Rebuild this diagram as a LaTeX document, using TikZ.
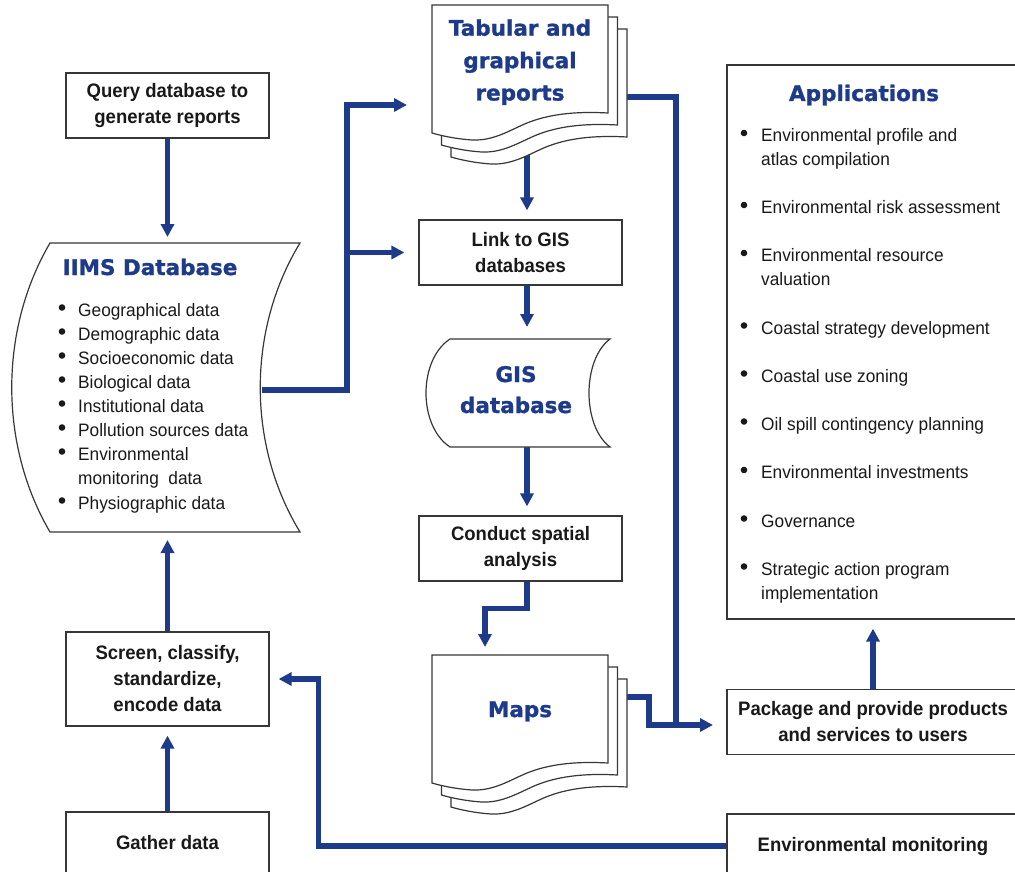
\documentclass[tikz,border=0pt]{standalone}
\usepackage{fontspec}
\usetikzlibrary{arrows.meta}
\newfontfamily\labfont{Liberation Sans}[FakeStretch=0.95]
\newfontfamily\bodyfont{Liberation Sans}[FakeStretch=0.96]
\newfontfamily\headfont{DejaVu Sans}[FakeBold=1.2]
\definecolor{flowblue}{RGB}{30,58,138}
\definecolor{edge}{RGB}{55,55,55}
\definecolor{ink}{RGB}{25,25,25}
\pgfdeclarelayer{bg}
\pgfsetlayers{bg,main}

\begin{document}
\begin{tikzpicture}[x=1pt,y=-1pt,
  box/.style={draw=edge,line width=1.2pt,fill=white,inner sep=0pt,align=center,text=ink,
    font=\labfont\bfseries\fontsize{19.5}{26}\selectfont},
  frame/.style={draw=edge,line width=1.2pt,fill=white,inner sep=0pt},
  flow/.style={draw=flowblue,line width=5.5pt,-{Triangle[length=13pt,width=13pt]}},
  feed/.style={draw=flowblue,line width=5.5pt},
  head/.style={anchor=base,inner sep=0pt,text=flowblue,font=\headfont\bfseries\fontsize{21.5}{32}\selectfont},
  entry/.style={anchor=base west,inner sep=0pt,text=ink,font=\bodyfont\fontsize{18}{24}\selectfont},
  bullet/.style={circle,fill=ink,inner sep=0pt,minimum size=6.6pt},
  page/.style={draw=edge,line width=1.2pt,fill=white},
  docpage/.pic={\path[page] (0,0) -- (176,0) -- (176,108)
      .. controls (140,106) and (115,110) .. (95,118)
      .. controls (78,125) and (62,136) .. (40,135)
      .. controls (25,134) and (10,131) .. (0,128) -- cycle;}
]
\useasboundingbox (0,0) rectangle (1015,872);
\clip (0,0) rectangle (1015,872);

% ---------- left column ----------
\node[box,minimum width=203pt,minimum height=65pt] (query) at (167.5,105.5) {Query database to\\generate reports};

\path[page] (50,243) -- (300,243) .. controls (247,330) and (247,445) .. (300,532)
  -- (50,532) .. controls (-1,445) and (-1,330) .. (50,243) -- cycle;
\coordinate (iimstop) at (167.5,243);
\coordinate (iimsbot) at (167.5,532);
\coordinate (iimsout) at (262,390);
\node[head] (iims) at (150,275) {IIMS Database};
\foreach \t/\y/\b [count=\i] in {
    Geographical data/316/1, Demographic data/340/1, Socioeconomic data/364/1,
    Biological data/388/1, Institutional data/412/1, Pollution sources data/436/1,
    Environmental/460/1, monitoring\ \ data/484/0, Physiographic data/509/1}{
  \node[entry] (iimsitem\i) at (78,\y) {\t};
  \ifnum\b=1 \node[bullet] (iimsdot\i) at (62,\y-8.5) {};\fi
}

\node[box,minimum width=203pt,minimum height=94pt] (screen) at (167.5,679) {Screen, classify,\\standardize,\\encode data};
\node[box,minimum width=203pt,minimum height=62pt] (gather) at (167.5,843) {Gather data};

% ---------- middle column ----------
\pic at (451,29) {docpage};
\pic at (441.5,17) {docpage};
\pic at (432,5) {docpage};
\node[head] (tab1) at (520,35.7) {Tabular and};
\node[head] (tab2) at (520,68.2) {graphical};
\node[head] (tab3) at (520,100.5) {reports};
\coordinate (tabin) at (432,105);
\coordinate (tabbot) at (527,152);
\coordinate (tabout) at (627,97);

\node[box,minimum width=203pt,minimum height=65pt] (link) at (520.5,252.5) {Link to GIS\\databases};

\path[page] (450,339) -- (610,339) .. controls (582,360) and (582,426) .. (610,447)
  -- (450,447) .. controls (418,426) and (418,360) .. (450,339) -- cycle;
\coordinate (gistop) at (527,339);
\coordinate (gisbot) at (527,447);
\node[head] (gis1) at (516,382) {GIS};
\node[head] (gis2) at (516,413) {database};

\node[box,minimum width=203pt,minimum height=65pt] (conduct) at (520.5,548.5) {Conduct spatial\\analysis};

\pic at (451,679) {docpage};
\pic at (441.5,667) {docpage};
\pic at (432,655) {docpage};
\node[head] (maps) at (520,717) {Maps};
\coordinate (mapstop) at (485,655);
\coordinate (mapsout) at (627,697);

% ---------- right column ----------
\node[frame,minimum width=292pt,minimum height=554pt] (apps) at (873,342) {};
\node[head] (appstitle) at (864,101) {Applications};
\foreach \t/\y/\b [count=\i] in {
    Environmental profile and/141.5/1, atlas compilation/165.5/0,
    Environmental risk assessment/213.5/1,
    Environmental resource/261.5/1, valuation/285.5/0,
    Coastal strategy development/334/1, Coastal use zoning/382/1,
    Oil spill contingency planning/430/1, Environmental investments/478.5/1,
    Governance/527/1,
    Strategic action program/575/1, implementation/599/0}{
  \node[entry] (appitem\i) at (761,\y) {\t};
  \ifnum\b=1 \node[bullet] (appdot\i) at (744,\y-8.5) {};\fi
}

\node[box,minimum width=292pt,minimum height=65pt] (package) at (873,722) {Package and provide products\\and services to users};
\coordinate (pkgin) at (727,725);
\node[box,minimum width=292pt,minimum height=64pt] (envmon) at (873,846) {Environmental monitoring};

% ---------- connectors ----------
\begin{pgfonlayer}{bg}
  \draw[flow,shorten >=6pt] (query.south) -- (iimstop);
  \draw[flow,shorten >=25pt] (iimsout) -| (347,105) -- (tabin);
  \coordinate (fork) at (347,252.5);
  \draw[flow,shorten >=14pt] (fork) -- (link.west);
  \draw[flow,shorten >=9pt] (tabbot) -- (tabbot |- link.north);
  \draw[flow,shorten >=12pt] (link.south -| tabbot) -- (gistop);
  \draw[flow,shorten >=9pt] (gisbot) -- (gisbot |- conduct.north);
  \draw[flow,shorten >=8pt] (conduct.south -| tabbot) -- ++(0,27) -| (mapstop);
  \draw[feed] (tabout) -| (676,725);
  \draw[flow,shorten >=14pt] (mapsout) -- (649,697) |- (pkgin);
  \draw[flow,shorten >=9pt] (package.north) -- (apps.south);
  \draw[flow,shorten >=9pt] (envmon.west) -| ([xshift=49pt]screen.east) -- (screen.east);
  \draw[flow,shorten >=9pt] (gather.north) -- (screen.south);
  \draw[flow,shorten >=8pt] (screen.north) -- (iimsbot);
\end{pgfonlayer}
\end{tikzpicture}
\end{document}
